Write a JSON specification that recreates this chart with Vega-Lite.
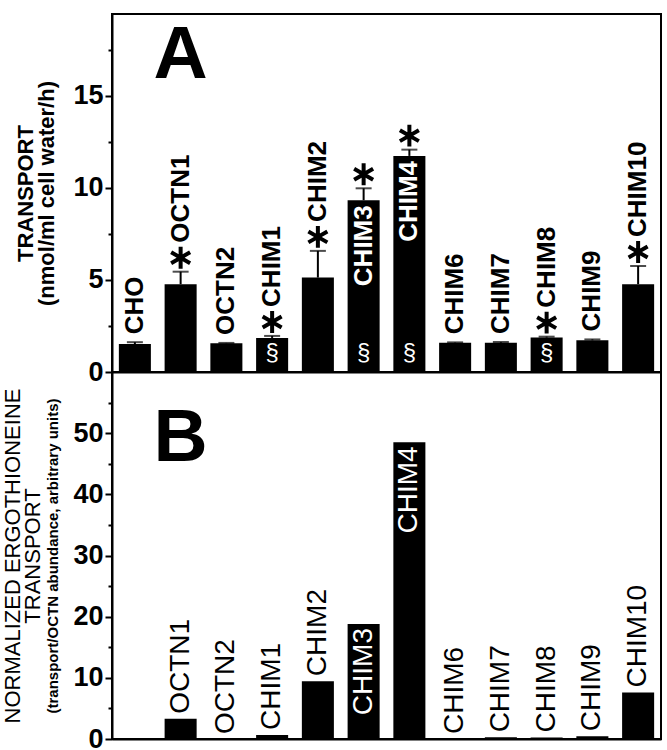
{
  "$schema": "https://vega.github.io/schema/vega-lite/v6.json",
  "padding": {"left": 0, "top": 13, "right": 5, "bottom": 0},
  "spacing": 0,
  "bounds": "flush",
  "config": {
    "view": {"stroke": "black", "strokeWidth": 2},
    "font": "Liberation Sans",
    "axis": {"grid": false, "domainColor": "black", "tickColor": "black", "labelColor": "black", "titleColor": "black"}
  },
  "datasets": {
    "a": [
      {"name": "CHO", "value": 1.52, "hi": 1.62, "star": false, "sect": false, "inside": false},
      {"name": "OCTN1", "value": 4.77, "hi": 5.45, "star": true, "sect": false, "inside": false},
      {"name": "OCTN2", "value": 1.56, "hi": 1.58, "star": false, "sect": false, "inside": false},
      {"name": "CHIM1", "value": 1.85, "hi": 1.96, "star": true, "sect": true, "inside": false},
      {"name": "CHIM2", "value": 5.13, "hi": 6.58, "star": true, "sect": false, "inside": false},
      {"name": "CHIM3", "value": 9.33, "hi": 9.98, "star": true, "sect": true, "inside": true},
      {"name": "CHIM4", "value": 11.74, "hi": 12.08, "star": true, "sect": true, "inside": true},
      {"name": "CHIM6", "value": 1.59, "hi": 1.61, "star": false, "sect": false, "inside": false},
      {"name": "CHIM7", "value": 1.59, "hi": 1.63, "star": false, "sect": false, "inside": false},
      {"name": "CHIM8", "value": 1.87, "hi": 1.92, "star": true, "sect": true, "inside": false},
      {"name": "CHIM9", "value": 1.72, "hi": 1.77, "star": false, "sect": false, "inside": false},
      {"name": "CHIM10", "value": 4.77, "hi": 5.76, "star": true, "sect": false, "inside": false}
    ],
    "b": [
      {"name": "OCTN1", "value": 3.3, "inside": false},
      {"name": "OCTN2", "value": 0, "inside": false},
      {"name": "CHIM1", "value": 0.65, "inside": false},
      {"name": "CHIM2", "value": 9.46, "inside": false},
      {"name": "CHIM3", "value": 18.8, "inside": true},
      {"name": "CHIM4", "value": 48.5, "inside": true},
      {"name": "CHIM6", "value": 0, "inside": false},
      {"name": "CHIM7", "value": 0.27, "inside": false},
      {"name": "CHIM8", "value": 0.25, "inside": false},
      {"name": "CHIM9", "value": 0.45, "inside": false},
      {"name": "CHIM10", "value": 7.6, "inside": false}
    ]
  },
  "vconcat": [
    {
      "width": 549,
      "height": 358,
      "data": {"name": "a"},
      "encoding": {
        "x": {
          "field": "name", "type": "nominal", "sort": null,
          "scale": {"domain": ["CHO","OCTN1","OCTN2","CHIM1","CHIM2","CHIM3","CHIM4","CHIM6","CHIM7","CHIM8","CHIM9","CHIM10"], "paddingInner": 0.3, "paddingOuter": 0.15},
          "axis": {"labels": false, "ticks": false, "title": null, "domainWidth": 2}
        }
      },
      "layer": [
        {
          "mark": {"type": "rule", "color": "black", "strokeWidth": 2},
          "encoding": {
            "y": {"field": "value", "type": "quantitative", "scale": {"domain": [0, 19.45], "nice": false},
              "axis": {"orient": "left", "values": [2.5, 7.5, 12.5, 17.5], "labels": false, "domain": false, "title": null, "tickSize": 4, "tickWidth": 2}},
            "y2": {"field": "hi"}
          }
        },
        {
          "mark": {"type": "bar", "color": "black"},
          "encoding": {
            "y": {"field": "value", "type": "quantitative",
              "axis": {"orient": "left", "values": [0, 5, 10, 15], "title": ["TRANSPORT", "(nmol/ml cell water/h)"],
                "titleFontSize": 22, "titleFontWeight": "bold", "titleLineHeight": 21, "titlePadding": 14,
                "labelFontSize": 27, "labelFontWeight": "bold",
                "labelPadding": 2, "tickSize": 7, "tickWidth": 2, "domainWidth": 2}}
          }
        },
        {
          "mark": {"type": "tick", "color": "black", "thickness": 2, "size": 16, "orient": "horizontal"},
          "encoding": {"y": {"field": "hi", "type": "quantitative", "axis": null}}
        },
        {
          "transform": [{"filter": "!datum.star && !datum.inside"}],
          "mark": {"type": "text", "angle": 270, "align": "left", "baseline": "middle", "dx": 8, "fontSize": 26, "fontWeight": "bold", "color": "black"},
          "encoding": {"y": {"field": "hi", "type": "quantitative", "axis": null}, "text": {"field": "name"}}
        },
        {
          "transform": [{"filter": "datum.star && !datum.inside"}],
          "mark": {"type": "text", "angle": 270, "align": "left", "baseline": "middle", "dx": 29, "fontSize": 26, "fontWeight": "bold", "color": "black"},
          "encoding": {"y": {"field": "hi", "type": "quantitative", "axis": null}, "text": {"field": "name"}}
        },
        {
          "transform": [{"filter": "datum.inside"}],
          "mark": {"type": "text", "angle": 270, "align": "right", "baseline": "middle", "dx": -5, "fontSize": 26, "fontWeight": "bold", "color": "white"},
          "encoding": {"y": {"field": "value", "type": "quantitative", "axis": null}, "text": {"field": "name"}}
        },
        {
          "transform": [{"filter": "datum.star"}],
          "mark": {"type": "point", "shape": "M0,-1L0,1M-0.866,-0.5L0.866,0.5M-0.866,0.5L0.866,-0.5", "filled": false, "stroke": "black", "strokeWidth": 4, "size": 480, "opacity": 1, "yOffset": -14},
          "encoding": {"y": {"field": "hi", "type": "quantitative", "axis": null}}
        },
        {
          "transform": [{"filter": "datum.sect"}],
          "mark": {"type": "text", "align": "center", "baseline": "alphabetic", "dy": -12, "fontSize": 24, "color": "white"},
          "encoding": {"y": {"datum": 0, "type": "quantitative", "axis": null}, "text": {"value": "§"}}
        },
        {
          "data": {"values": [{"panel": "A"}]},
          "mark": {"type": "text", "align": "center", "baseline": "alphabetic", "fontSize": 75, "fontWeight": "bold", "color": "black"},
          "encoding": {"x": {"datum": "OCTN1"}, "y": {"datum": 15.95, "type": "quantitative", "axis": null}, "text": {"field": "panel"}}
        }
      ],
      "resolve": {"axis": {"y": "independent"}}
    },
    {
      "width": 549,
      "height": 367,
      "data": {"name": "b"},
      "encoding": {
        "x": {
          "field": "name", "type": "nominal", "sort": null,
          "scale": {"domain": ["CHO","OCTN1","OCTN2","CHIM1","CHIM2","CHIM3","CHIM4","CHIM6","CHIM7","CHIM8","CHIM9","CHIM10"], "paddingInner": 0.3, "paddingOuter": 0.15},
          "axis": {"labels": false, "ticks": false, "title": null, "domainWidth": 2}
        }
      },
      "layer": [
        {
          "mark": {"type": "bar", "color": "black"},
          "encoding": {
            "y": {"field": "value", "type": "quantitative", "scale": {"domain": [0, 60], "nice": false},
              "axis": {"orient": "left", "values": [0, 10, 20, 30, 40, 50], "title": ["NORMALIZED ERGOTHIONEINE", "TRANSPORT"],
                "titleFontSize": 22, "titleFontWeight": "normal", "titleLineHeight": 20, "titlePadding": 28,
                "labelFontSize": 27, "labelFontWeight": "bold",
                "labelPadding": 2, "tickSize": 7, "tickWidth": 2, "domainWidth": 2}}
          }
        },
        {
          "mark": {"type": "tick", "opacity": 0},
          "encoding": {
            "y": {"field": "value", "type": "quantitative",
              "axis": {"orient": "left", "values": [5, 15, 25, 35, 45, 55], "labels": false, "domain": false, "tickSize": 4, "tickWidth": 2,
                "title": "(transport/OCTN abundance, arbitrary units)", "titleFontSize": 15, "titleFontWeight": "bold", "titlePadding": 47}}
          }
        },
        {
          "transform": [{"filter": "!datum.inside"}],
          "mark": {"type": "text", "angle": 270, "align": "left", "baseline": "middle", "dx": 5, "fontSize": 28, "color": "black"},
          "encoding": {"y": {"field": "value", "type": "quantitative", "axis": null}, "text": {"field": "name"}}
        },
        {
          "transform": [{"filter": "datum.inside"}],
          "mark": {"type": "text", "angle": 270, "align": "right", "baseline": "middle", "dx": -4, "fontSize": 28, "color": "white"},
          "encoding": {"y": {"field": "value", "type": "quantitative", "axis": null}, "text": {"field": "name"}}
        },
        {
          "data": {"values": [{"panel": "B"}]},
          "mark": {"type": "text", "align": "center", "baseline": "alphabetic", "fontSize": 75, "fontWeight": "bold", "color": "black"},
          "encoding": {"x": {"datum": "OCTN1"}, "y": {"datum": 45.5, "type": "quantitative", "axis": null}, "text": {"field": "panel"}}
        }
      ],
      "resolve": {"axis": {"y": "independent"}}
    }
  ]
}
